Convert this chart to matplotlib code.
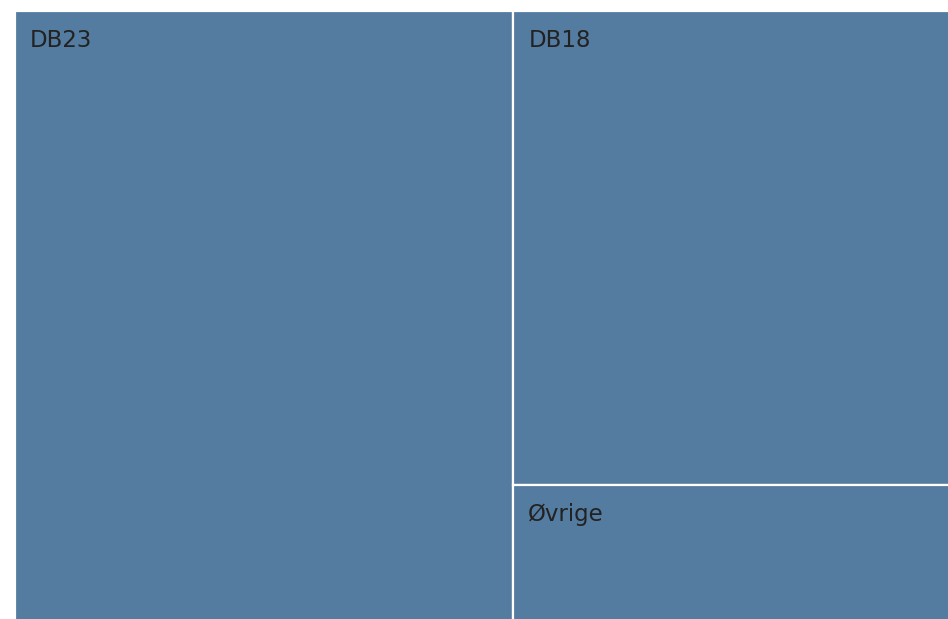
import matplotlib.pyplot as plt
from matplotlib.patches import Rectangle

# treemap data (share of total)
labels = ["DB23", "DB18", "Øvrige"]
values = [53.3, 36.3, 10.4]

fill = "#547ba0"

fig = plt.figure(figsize=(9.48, 6.19), dpi=100)
# treemap runs a little past the right and bottom edge, like the reference crop
ax = fig.add_axes([15 / 948, -2 / 619, 935 / 948, 610 / 619])
ax.set_xlim(0, 1)
ax.set_ylim(1, 0)
ax.axis("off")

total = sum(values)

# first item gets a full-height column, the rest stack in the remaining column
rects = []
w0 = values[0] / total
rects.append((0, 0, w0, 1))
rest = sum(values[1:])
y = 0
for v in values[1:]:
    h = v / rest
    rects.append((w0, y, 1 - w0, h))
    y += h

for (x, y, w, h), lab in zip(rects, labels):
    ax.add_patch(Rectangle((x, y), w, h, facecolor=fill, edgecolor="white", linewidth=1.6))
    ax.annotate(lab, xy=(x, y), xytext=(15, -18), textcoords="offset pixels",
                ha="left", va="top", fontsize=16.5, color="#222222", family="DejaVu Sans")

fig.savefig("out.png", dpi=100)
